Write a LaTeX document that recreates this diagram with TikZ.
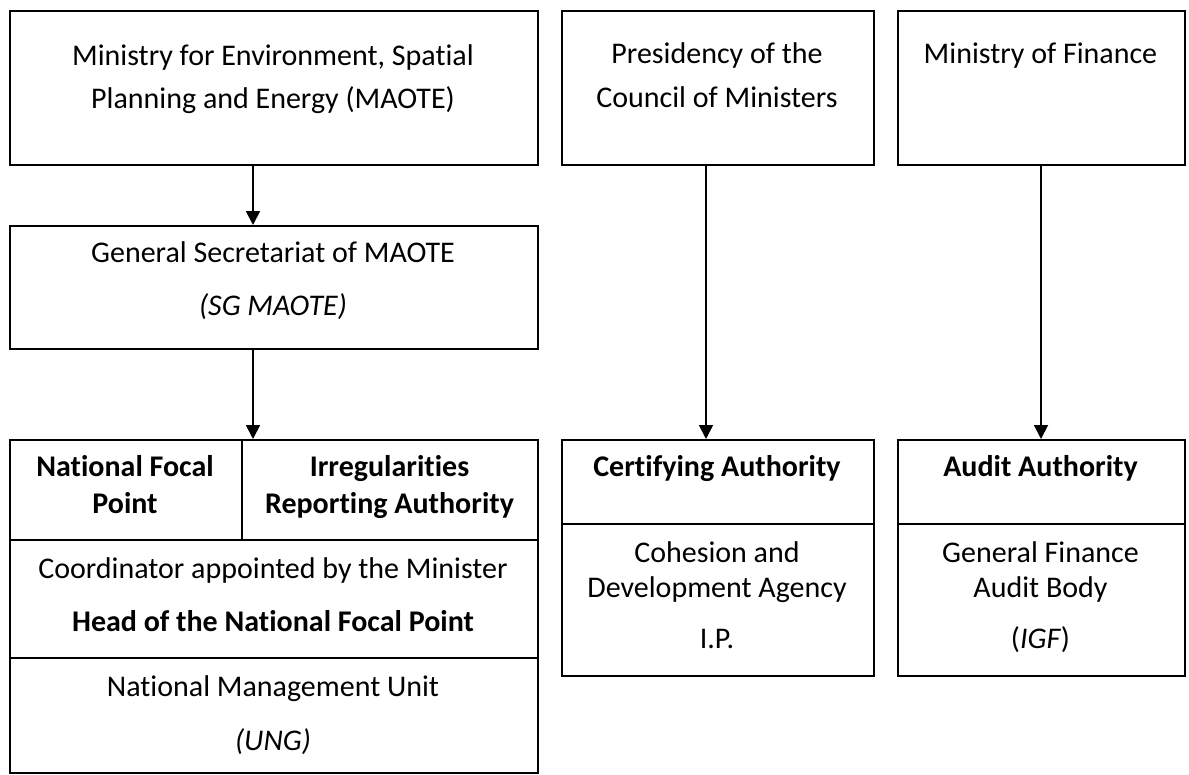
\documentclass[tikz,border=0pt]{standalone}
\usepackage{fontspec}
\setmainfont{Carlito}[Ligatures=CommonOff]
\usetikzlibrary{arrows.meta}
\begin{document}
\begin{tikzpicture}[x=1pt,y=-1pt,
  box/.style={draw, line width=1.8pt, rectangle, inner sep=0pt, anchor=north west},
  txt/.style={font=\fontsize{30}{36}\selectfont, anchor=base, inner sep=0pt},
  bld/.style={font=\fontsize{30}{36}\selectfont\bfseries, anchor=base, inner sep=0pt},
  arr/.style={-{Triangle[width=14pt,length=14pt]}, line width=1.8pt},
  rule/.style={line width=1.8pt}]
\useasboundingbox (0,0) rectangle (1189,774);
% boxes
\node[box, minimum width=528.3pt, minimum height=154pt] (mae) at (8.7,10) {};
\node[box, minimum width=312pt, minimum height=154pt] (pcm) at (561,10) {};
\node[box, minimum width=287pt, minimum height=154pt] (mof) at (897,10) {};
\node[box, minimum width=528.3pt, minimum height=123pt] (sg) at (8.7,225) {};
\node[box, minimum width=528.3pt, minimum height=333pt] (nfp) at (8.7,439) {};
\node[box, minimum width=312pt, minimum height=236pt] (ca) at (561,439) {};
\node[box, minimum width=287pt, minimum height=236pt] (aa) at (897,439) {};
% inner rules
\draw[rule] (8.7,540) -- (537,540);
\draw[rule] (8.7,658) -- (537,658);
\draw[rule] (242,439) -- (242,540);
\draw[rule] (561,524) -- (873,524);
\draw[rule] (897,524) -- (1184,524);
% arrows
\coordinate (ax1) at (253,0);
\coordinate (ax2) at (706,0);
\coordinate (ax3) at (1041,0);
\draw[arr] (mae.south -| ax1) -- (sg.north -| ax1);
\draw[arr] (sg.south -| ax1) -- (nfp.north -| ax1);
\draw[arr] (pcm.south -| ax2) -- (ca.north -| ax2);
\draw[arr] (mof.south -| ax3) -- (aa.north -| ax3);
% texts
\node[txt] (t1) at (273,65) {Ministry for Environment, Spatial};
\node[txt] (t2) at (273,108) {Planning and Energy (MAOTE)};
\node[txt] (t3) at (717,63) {Presidency of the};
\node[txt] (t4) at (717,107) {Council of Ministers};
\node[txt] (t5) at (1040.5,63) {Ministry of Finance};
\node[txt] (t6) at (273,262) {General Secretariat of MAOTE};
\node[txt] (t7) at (273,315) {\itshape (SG MAOTE)};
\node[bld] (t8) at (125,476) {National Focal};
\node[bld] (t9) at (125,513) {Point};
\node[bld] (t10) at (389.5,476) {Irregularities};
\node[bld] (t11) at (389.5,513) {Reporting Authority};
\node[txt] (t12) at (273,578) {Coordinator appointed by the Minister};
\node[bld] (t13) at (273,631) {Head of the National Focal Point};
\node[txt] (t14) at (273,696) {National Management Unit};
\node[txt] (t15) at (273,750) {\itshape (UNG)};
\node[bld] (t16) at (717,476) {Certifying Authority};
\node[bld] (t17) at (1040.5,476) {Audit Authority};
\node[txt] (t18) at (717,562) {Cohesion and};
\node[txt] (t19) at (717,597) {Development Agency};
\node[txt] (t20) at (717,648) {I.P.};
\node[txt] (t21) at (1040.5,562) {General Finance};
\node[txt] (t22) at (1040.5,597) {Audit Body};
\node[txt] (t23) at (1040.5,648) {(\textit{IGF})};
\end{tikzpicture}
\end{document}
